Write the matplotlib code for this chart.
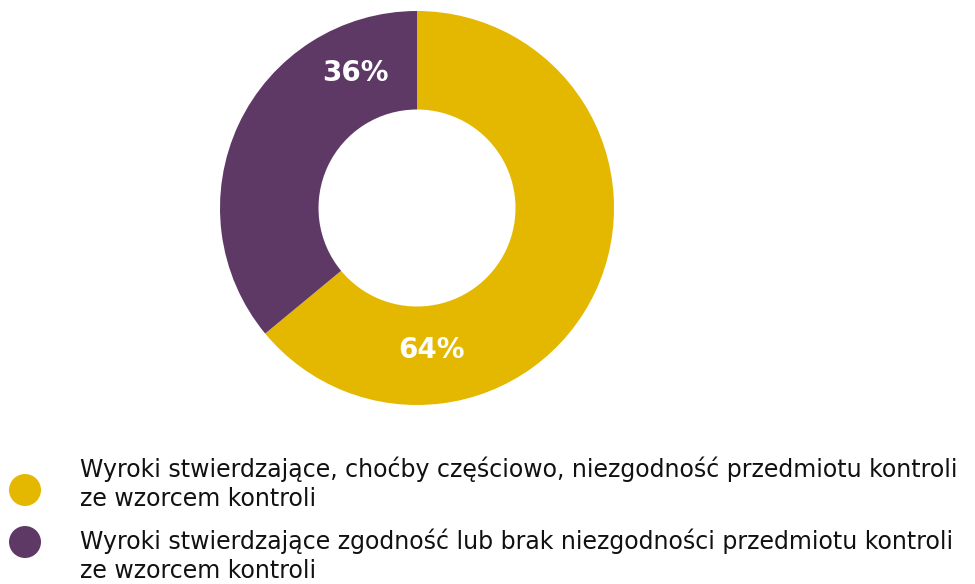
import matplotlib
matplotlib.use("Agg")
import matplotlib.pyplot as plt
from matplotlib.patches import Circle

labels = [
    "Wyroki stwierdzające, choćby częściowo, niezgodność przedmiotu kontroli\nze wzorcem kontroli",
    "Wyroki stwierdzające zgodność lub brak niezgodności przedmiotu kontroli\nze wzorcem kontroli",
]
values = [64, 36]
value_labels = ["64%", "36%"]
colors = ["#E4B800", "#5E3966"]

W, H = 975, 584
fig = plt.figure(figsize=(W / 100, H / 100), dpi=100)
fig.patch.set_facecolor("white")

# donut axes: centre (417, 208) px from top-left, outer radius 197 px
cx, cy, r = 417, 208, 197
ax = fig.add_axes([(cx - r) / W, (H - cy - r) / H, 2 * r / W, 2 * r / H])
ax.pie(values, colors=colors, startangle=90, counterclock=False,
       radius=1.0, wedgeprops=dict(width=0.5, edgecolor="none"))
ax.set_xlim(-1, 1)
ax.set_ylim(-1, 1)
ax.set_aspect("equal")
ax.axis("off")

# percentage labels placed inside the ring
label_pos = [(0.076, -0.72), (-0.315, 0.685)]
for (x, y), t in zip(label_pos, value_labels):
    ax.text(x, y, t, ha="center", va="center", color="white",
            fontsize=20, fontweight="bold", family="DejaVu Sans")

# legend: coloured dots with two-line descriptions
dot_y = [490, 542]
text_y = [477, 549]
line_step = 29
for c, lab, dy, ty in zip(colors, labels, dot_y, text_y):
    fig.patches.append(Circle((25, H - dy), 16, transform=None,
                              facecolor=c, edgecolor="none"))
    for i, line in enumerate(lab.split("\n")):
        fig.text(80 / W, (H - ty - i * line_step) / H, line, ha="left",
                 va="baseline", fontsize=17, color="#111111",
                 family="DejaVu Sans")

fig.savefig("out.png", dpi=100, facecolor="white")
